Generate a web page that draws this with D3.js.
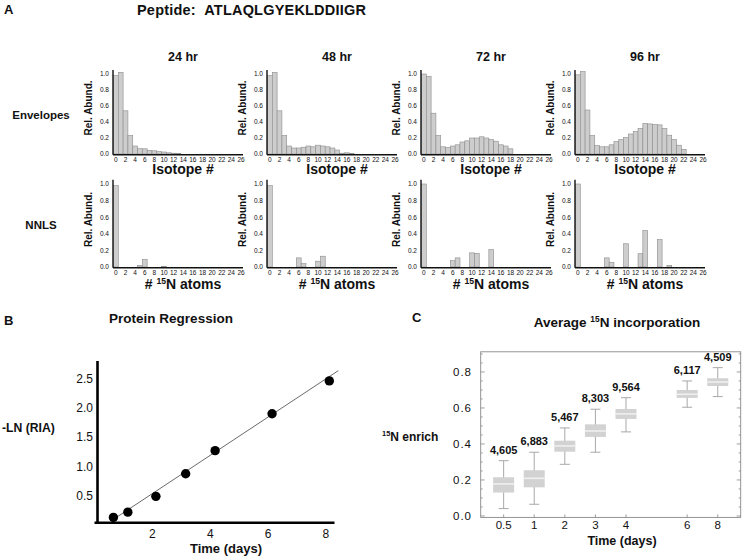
<!DOCTYPE html>
<html><head><meta charset="utf-8">
<script src="https://cdn.jsdelivr.net/npm/d3@7"></script>
<style>
body{margin:0;background:#fff}
svg{display:block}
text{font-family:"Liberation Sans",Arial,Helvetica,sans-serif;fill:#111}
</style>
</head><body><svg id="c" width="744" height="556"></svg>
<script>
// ---------- DATA ----------
const peptide = "ATLAQLGYEKLDDIIGR";
const timepoints = ["24 hr", "48 hr", "72 hr", "96 hr"];
const isoTicks = d3.range(0, 27, 2);
const relTicks = [0, 0.2, 0.4, 0.6, 0.8, 1.0];

// isotope envelopes (index 0..26)
const env24 = [0.98,1.02,0.54,0.23,0.10,0.066,0.065,0.045,0.04,0.03,0.025,0.015,0.01,0.005,0,0,0,0,0,0,0,0,0,0,0,0,0];
const env48 = [0.98,1.02,0.54,0.23,0.10,0.075,0.075,0.085,0.10,0.09,0.11,0.10,0.09,0.075,0.05,0.01,0.015,0.005,0,0,0,0,0,0,0,0,0];
const env72 = [1.0,0.97,0.51,0.23,0.09,0.08,0.10,0.115,0.15,0.165,0.20,0.20,0.215,0.20,0.18,0.16,0.115,0.10,0.065,0,0,0,0,0,0,0,0];
const env96 = [0.99,1.03,0.55,0.23,0.105,0.09,0.09,0.115,0.155,0.18,0.205,0.25,0.28,0.32,0.38,0.376,0.368,0.364,0.318,0.235,0.18,0.11,0.058,0,0,0,0];

// NNLS solutions: [# 15N atoms, rel. abundance]
const nnls24 = [[0,0.98],[5,0.02],[6,0.09],[10,0.005]];
const nnls48 = [[0,0.98],[6,0.11],[7,0.04],[10,0.07],[11,0.13]];
const nnls72 = [[0,1.0],[6,0.077],[7,0.11],[10,0.17],[11,0.165],[14,0.21]];
const nnls96 = [[0,1.0],[6,0.11],[7,0.055],[10,0.28],[13,0.16],[14,0.44],[17,0.33],[19,0.02]];

// Panel B: protein regression
const regTime = [0.65, 1.15, 2.12, 3.15, 4.17, 6.14, 8.12];
const regValue = [0.13, 0.22, 0.49, 0.876, 1.27, 1.90, 2.46];
const fitSlope = 0.3262, fitIntercept = -0.115, fitFrom = 0.7, fitTo = 8.43;
const bXTicks = [2, 4, 6, 8];
const bYTicks = [0.5, 1.0, 1.5, 2.0, 2.5];

// Panel C: average 15N incorporation
const cSlots = ["0.5", "1", "2", "3", "4", "5", "6", "8"];
const cDays = ["0.5", "1", "2", "3", "4", "6", "8"];
const cCounts = ["4,605", "6,883", "5,467", "8,303", "9,564", "6,117", "4,509"];
const cWhiskLo = [0.041, 0.065, 0.287, 0.354, 0.467, 0.604, 0.663];
const cQ1 = [0.13, 0.159, 0.357, 0.439, 0.539, 0.656, 0.722];
const cMed = [0.178, 0.209, 0.389, 0.472, 0.567, 0.676, 0.744];
const cQ3 = [0.215, 0.254, 0.418, 0.509, 0.594, 0.70, 0.765];
const cWhiskHi = [0.307, 0.354, 0.489, 0.593, 0.657, 0.75, 0.824];
const cYTicks = [0.0, 0.2, 0.4, 0.6, 0.8];

// ---------- DRAW ----------
const svg = d3.select("#c");
function txt(x, y, s, size, weight, anchor) {
  return svg.append("text").attr("x", x).attr("y", y).text(s)
    .attr("font-size", size).attr("font-weight", weight || "normal")
    .attr("text-anchor", anchor || "start");
}
function supText(x, y, pre, sup, post, size, anchor) {
  const t = svg.append("text").attr("x", x).attr("y", y)
    .attr("font-size", size).attr("font-weight", "bold").attr("text-anchor", anchor || "start");
  if (pre) t.append("tspan").text(pre);
  t.append("tspan").text(sup).attr("font-size", size * 0.62).attr("dy", -size * 0.38);
  t.append("tspan").text(post).attr("dy", size * 0.38);
  return t;
}

// Panel A header
txt(4, 14, "A", 13, "bold");
txt(137, 15, "Peptide:\u00A0\u00A0" + peptide, 14.5, "bold").attr("letter-spacing", 0.2);

const colX = [113, 267, 421, 575];
const envData = [env24, env48, env72, env96];
const nnlsData = [nnls24, nnls48, nnls72, nnls96];

txt(41, 119, "Envelopes", 11.5, "bold", "middle");
txt(41, 229, "NNLS", 11.5, "bold", "middle");

function histPanel(ax0, yBase, yOne, bars, xlabelFn) {
  const x = d3.scaleLinear().domain([-0.6, 26]).range([ax0, ax0 + 128]);
  const y = d3.scaleLinear().domain([0, 1]).range([yBase, yOne]);
  const bw = x(1) - x(0);
  const g = svg.append("g");
  g.selectAll("rect").data(bars).join("rect")
    .attr("x", d => x(d[0]) - bw / 2).attr("width", bw)
    .attr("y", d => y(d[1])).attr("height", d => yBase - y(d[1]))
    .attr("fill", "#cdcdcd").attr("stroke", "#8c8c8c").attr("stroke-width", 0.6);
  // axes
  g.append("line").attr("x1", ax0).attr("x2", ax0).attr("y1", y(1.05)).attr("y2", yBase + 0.7)
    .attr("stroke", "#111").attr("stroke-width", 1.4);
  g.append("line").attr("x1", ax0).attr("x2", x(26) + 2).attr("y1", yBase + 0.7).attr("y2", yBase + 0.7)
    .attr("stroke", "#111").attr("stroke-width", 1.4);
  g.selectAll("text.yt").data(relTicks).join("text").attr("class", "yt")
    .attr("x", ax0 - 4).attr("y", d => y(d) + 2.3).attr("text-anchor", "end")
    .attr("font-size", 6.5).text(d3.format(".1f"));
  g.selectAll("text.xt").data(isoTicks).join("text").attr("class", "xt")
    .attr("x", d => x(d)).attr("y", yBase + 7.5).attr("text-anchor", "middle")
    .attr("font-size", 6.5).text(d => d);
  g.append("text").attr("transform", `translate(${ax0 - 21},${(yBase + yOne) / 2 - 6}) rotate(-90)`)
    .attr("text-anchor", "middle").attr("font-size", 10).attr("font-weight", "bold").text("Rel. Abund.");
  xlabelFn(ax0 + 70);
}

colX.forEach((ax0, c) => {
  txt(ax0 + 70, 61, timepoints[c], 12.5, "bold", "middle");
  histPanel(ax0, 154, 74, envData[c].map((v, i) => [i, v]),
    cx => txt(cx, 174, "Isotope #", 14, "bold", "middle"));
  histPanel(ax0, 267, 184, nnlsData[c],
    cx => supText(cx, 289, "# ", "15", "N atoms", 14, "middle"));
});

// ---------- Panel B ----------
txt(4, 325, "B", 13, "bold");
txt(171, 323, "Protein Regression", 13.5, "bold", "middle");
{
  const x = d3.scaleLinear().domain([0.1, 8.3]).range([97.5, 334.5]);
  const y = d3.scaleLinear().domain([0.04, 2.8]).range([522.7, 361]);
  svg.append("line").attr("x1", x(fitFrom)).attr("x2", x(fitTo))
    .attr("y1", y(fitSlope * fitFrom + fitIntercept)).attr("y2", y(fitSlope * fitTo + fitIntercept))
    .attr("stroke", "#444").attr("stroke-width", 0.8);
  svg.selectAll("circle.pt").data(regTime.map((t, i) => [t, regValue[i]])).join("circle")
    .attr("class", "pt").attr("cx", d => x(d[0])).attr("cy", d => y(d[1])).attr("r", 4.7).attr("fill", "#000");
  svg.append("line").attr("x1", x(0.1)).attr("x2", x(0.1)).attr("y1", y(2.8)).attr("y2", y(0.04) + 1.2)
    .attr("stroke", "#000").attr("stroke-width", 2.6);
  svg.append("line").attr("x1", x(0.1) - 3).attr("x2", x(8.3)).attr("y1", y(0.04)).attr("y2", y(0.04))
    .attr("stroke", "#000").attr("stroke-width", 2.6);
  svg.selectAll("text.bx").data(bXTicks).join("text").attr("class", "bx")
    .attr("x", d => x(d)).attr("y", 538).attr("text-anchor", "middle").attr("font-size", 12).text(d => d);
  svg.selectAll("text.by").data(bYTicks).join("text").attr("class", "by")
    .attr("x", 93).attr("y", d => y(d) + 4.3).attr("text-anchor", "end").attr("font-size", 12)
    .text(d3.format(".1f"));
  txt(226, 553, "Time (days)", 13, "bold", "middle");
  txt(2, 432, "-LN (RIA)", 12.2, "bold");
}

// ---------- Panel C ----------
txt(412, 322, "C", 13, "bold");
supText(617, 327, "Average ", "15", "N incorporation", 13.5, "middle");
{
  const fl = 480.7, fr = 740.7, ft = 351.8, fb = 517.4;
  const x = d3.scalePoint().domain(cSlots).range([fl, fr]).padding(0.75);
  const y = d3.scaleLinear().domain([-0.008, 0.912]).range([fb, ft]);
  const g = svg.append("g");
  // frame
  g.append("rect").attr("x", fl).attr("y", ft).attr("width", fr - fl).attr("height", fb - ft)
    .attr("fill", "none").attr("stroke", "#888").attr("stroke-width", 0.9);
  const minor = d3.range(0, 0.91, 0.05);
  const isMajor = d => Math.abs(d * 5 - Math.round(d * 5)) < 1e-6;
  g.selectAll("line.tl").data(minor).join("line").attr("class", "tl")
    .attr("x1", fl).attr("x2", d => fl + (isMajor(d) ? 4 : 2))
    .attr("y1", d => y(d)).attr("y2", d => y(d)).attr("stroke", "#888").attr("stroke-width", 0.8);
  g.selectAll("line.tr").data(minor).join("line").attr("class", "tr")
    .attr("x1", fr).attr("x2", d => fr - (isMajor(d) ? 4 : 2))
    .attr("y1", d => y(d)).attr("y2", d => y(d)).attr("stroke", "#888").attr("stroke-width", 0.8);
  g.selectAll("line.tb").data(cDays).join("line").attr("class", "tb")
    .attr("x1", d => x(d)).attr("x2", d => x(d)).attr("y1", fb).attr("y2", fb - 3)
    .attr("stroke", "#888").attr("stroke-width", 0.8);
  const boxes = cDays.map((d, i) => ({ d, lo: cWhiskLo[i], q1: cQ1[i], med: cMed[i], q3: cQ3[i], hi: cWhiskHi[i], n: cCounts[i] }));
  const bw = 21, cw = 10;
  const bg = g.selectAll("g.box").data(boxes).join("g").attr("class", "box");
  bg.append("line").attr("x1", d => x(d.d)).attr("x2", d => x(d.d)).attr("y1", d => y(d.hi)).attr("y2", d => y(d.lo))
    .attr("stroke", "#a8a8a8").attr("stroke-width", 1);
  bg.append("line").attr("x1", d => x(d.d) - cw / 2).attr("x2", d => x(d.d) + cw / 2).attr("y1", d => y(d.hi)).attr("y2", d => y(d.hi))
    .attr("stroke", "#a8a8a8").attr("stroke-width", 1);
  bg.append("line").attr("x1", d => x(d.d) - cw / 2).attr("x2", d => x(d.d) + cw / 2).attr("y1", d => y(d.lo)).attr("y2", d => y(d.lo))
    .attr("stroke", "#a8a8a8").attr("stroke-width", 1);
  bg.append("rect").attr("x", d => x(d.d) - bw / 2).attr("width", bw)
    .attr("y", d => y(d.q3)).attr("height", d => y(d.q1) - y(d.q3)).attr("fill", "#d2d2d2");
  bg.append("line").attr("x1", d => x(d.d) - bw / 2).attr("x2", d => x(d.d) + bw / 2).attr("y1", d => y(d.med)).attr("y2", d => y(d.med))
    .attr("stroke", "#efefef").attr("stroke-width", 1.6);
  bg.append("text").attr("x", d => x(d.d)).attr("y", d => y(d.hi) - 7).attr("text-anchor", "middle")
    .attr("font-size", 11).attr("font-weight", "bold").text(d => d.n);
  g.selectAll("text.cy").data(cYTicks).join("text").attr("class", "cy")
    .attr("x", 472).attr("y", d => y(d) + 4).attr("text-anchor", "end").attr("font-size", 11.5)
    .attr("letter-spacing", 1).text(d3.format(".1f"));
  g.selectAll("text.cx").data(cDays).join("text").attr("class", "cx")
    .attr("x", d => x(d)).attr("y", 529).attr("text-anchor", "middle").attr("font-size", 11.5).text(d => d);
  txt(622, 545, "Time (days)", 12.5, "bold", "middle");
  supText(382, 441, "", "15", "N enrich", 12, "start");
}
</script></body></html>
